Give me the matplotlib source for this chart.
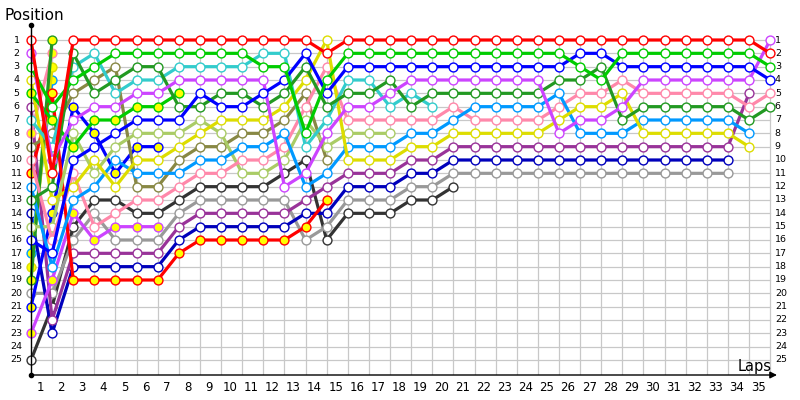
import matplotlib
matplotlib.use("Agg")
import matplotlib.pyplot as plt

# ---------------- data (position per lap, starting at lap 0 = grid) ----------------
n_laps = 35
n_positions = 25
lap_labels = [str(i) for i in range(1, n_laps + 1)]
position_labels = [str(i) for i in range(1, n_positions + 1)]

red_w = [1, 11, 1] + [1] * 11 + [2] + [1] * 20 + [2]
red_y = [11, 5, 19, 19, 19, 19, 19, 17, 16, 16, 16, 16, 16, 15, 13]
magenta_w = [2, 10, 7, 6, 6, 5, 5, 4, 4, 4, 4, 4, 12, 11, 8, 6, 6, 5, 4,
             4, 4, 4, 4, 4, 4, 8, 7, 7, 6, 4, 4, 4, 4, 4, 4, 1]
magenta_y = [23, 19, 14, 16, 15, 15, 15]
green_w = [3, 6, 4, 3, 2, 2, 2, 2, 2, 2, 2, 3, 3, 8, 4,
           2, 2, 2, 2, 2, 2, 2, 2, 2, 2, 2, 3, 4, 2, 2, 2, 2, 2, 2, 2, 3]
green_y = [5, 7, 9, 7, 7, 6, 6, 5]
dkgreen_w = [13, 12, 2, 5, 4, 3, 3, 6, 6, 5, 5, 6, 5, 3, 6, 5, 5, 4, 6,
             5, 5, 5, 5, 5, 5, 4, 4, 3, 7, 6, 6, 6, 6, 6, 7, 6]
dkgreen_y = [19, 1]
yellow_w = [4, 13, 12, 10, 12, 10, 10, 9, 8, 7, 7, 7, 6, 4, 1, 10, 10, 10, 9, 9, 8,
            8, 8, 8, 8, 7, 6, 6, 5, 8, 8, 8, 8, 8, 9]
yellow_y = [18, 3]
purple_w = [6, 22, 17, 17, 17, 17, 17, 15, 14, 14, 14, 14, 14, 13, 12, 11, 11, 11, 10, 10,
            9, 9, 9, 9, 9, 9, 9, 9, 9, 9, 9, 9, 9, 9, 5]
cyan_w = [7, 9, 3, 2, 5, 4, 4, 3, 3, 3, 3, 2, 2, 9, 7, 4, 4, 6, 5, 6]
pink_y = [8, 2]
olive_w = [9, 8, 5, 4, 3, 12, 12, 10, 9, 9, 8, 8, 7, 5, 10]
pink_w = [10, 16, 11, 15, 14, 13, 13, 12, 11, 11, 10, 10, 9, 6, 3, 7, 7, 7, 7, 7, 6,
          7, 7, 7, 7, 6, 5, 5, 4, 5, 5, 5, 5, 5, 6, 5]
lightblue_w = [12, 18, 13, 12, 10, 11, 11, 11, 10, 10, 9, 9, 8, 12, 11, 9, 9, 9, 8, 8, 7,
               6, 6, 6, 6, 5, 8, 8, 8, 7, 7, 7, 7, 7, 8]
lightblue_y = [17, 4]
darkblue_w = [14, 23, 18, 18, 18, 18, 18, 16, 15, 15, 15, 15, 15, 14, 14, 12, 12, 12, 11, 11,
              10, 10, 10, 10, 10, 10, 10, 10, 10, 10, 10, 10, 10, 10]
lightgreen_w = [15, 15, 8, 11, 9, 8, 8, 8, 7, 8, 11, 11, 10, 7, 9, 8, 8, 8]
blue_w = [16, 17, 10, 9, 8, 7, 7, 7, 5, 6, 6, 5, 4, 2, 5,
          3, 3, 3, 3, 3, 3, 3, 3, 3, 3, 3, 2, 2, 3, 3, 3, 3, 3, 3, 3, 4]
blue_y = [21, 14, 6, 8, 11, 9, 9]
gray_w = [20, 20, 16, 14, 16, 16, 16, 14, 13, 13, 13, 13, 13, 16, 15, 13, 13, 13, 12, 12,
          11, 11, 11, 11, 11, 11, 11, 11, 11, 11, 11, 11, 11, 11]
darkgray_w = [25, 21, 15, 13, 13, 14, 14, 13, 12, 12, 12, 12, 11, 10, 16, 14, 14, 14, 13, 13, 12]

# ---------------- styles ----------------
RED, MAGENTA, GREEN, DKGREEN = "#FF0000", "#CC44FF", "#00CC00", "#229922"
YELLOW, PURPLE, CYAN, PINK = "#DDDD00", "#993399", "#33CCCC", "#FF88AA"
OLIVE, LBLUE, DBLUE, LGREEN = "#888844", "#0099FF", "#0000BB", "#AACC66"
BLUE, GRAY, DGRAY = "#0000FF", "#999999", "#333333"
WHITE, YFILL = "white", "#FFFF00"

series = [
    (darkgray_w, DGRAY, WHITE), (gray_w, GRAY, WHITE), (darkblue_w, DBLUE, WHITE),
    (purple_w, PURPLE, WHITE), (magenta_y, MAGENTA, YFILL), (blue_y, BLUE, YFILL),
    (lightblue_y, LBLUE, YFILL), (yellow_y, YELLOW, YFILL), (pink_y, PINK, YFILL),
    (dkgreen_y, DKGREEN, YFILL), (red_y, RED, YFILL), (olive_w, OLIVE, WHITE),
    (lightgreen_w, LGREEN, WHITE), (pink_w, PINK, WHITE), (lightblue_w, LBLUE, WHITE),
    (yellow_w, YELLOW, WHITE), (green_y, GREEN, YFILL), (cyan_w, CYAN, WHITE),
    (dkgreen_w, DKGREEN, WHITE), (magenta_w, MAGENTA, WHITE), (blue_w, BLUE, WHITE),
    (green_w, GREEN, WHITE), (red_w, RED, WHITE),
]

plt.rcParams['font.family'] = ['DejaVu Sans']
fig = plt.figure(figsize=(8, 4), dpi=100)
W, H = 800, 400
x0, x1 = 31, 778
y_top, y_bot = 25, 375
ax = fig.add_axes([x0 / W, 1 - y_bot / H, (x1 - x0) / W, (y_bot - y_top) / H])
px_per_lap = 21.12
px_per_pos = 13.333
ax.set_xlim(0, (x1 - x0) / px_per_lap)
ax.set_ylim(1 + (y_bot - 40) / px_per_pos, 1 + (y_top - 40) / px_per_pos)
ymax = 1 + (y_bot - 40) / px_per_pos
ymin = 1 + (y_top - 40) / px_per_pos
for s in ax.spines.values():
    s.set_visible(False)
ax.set_xticks([])
ax.set_yticks([])

# grid
for p in range(1, n_positions + 1):
    ax.plot([0, n_laps], [p, p], color="#C8C8C8", lw=0.9, zorder=0)
for l in range(1, n_laps + 1):
    ax.plot([l, l], [1, ymax], color="#C8C8C8", lw=0.9, zorder=0)

# series
for vals, col, fill in series:
    laps = list(range(len(vals)))
    ax.plot(laps, vals, color=col, lw=2.3, marker='o', ms=6.4, mfc=fill, mec=col,
            mew=1.0, solid_joinstyle='round', zorder=3, clip_on=False)

# axes lines
ax.plot([0, 0], [ymin, ymax], color="black", lw=1.0, zorder=5, clip_on=False)
ax.plot([0], [ymin], marker='o', ms=3, color="black", clip_on=False, zorder=5)
ax.plot([0], [ymax], marker='o', ms=3, color="black", clip_on=False, zorder=5)
ax.annotate("", xy=((777 - x0) / px_per_lap, ymax), xytext=(0, ymax),
            arrowprops=dict(arrowstyle='-|>', color='black', lw=1.0,
                            mutation_scale=10, shrinkA=0, shrinkB=0),
            annotation_clip=False, zorder=5)

# tick labels
for i, t in enumerate(position_labels):
    p = i + 1
    ax.text(-0.68, p, t, ha='center', va='center', fontsize=6.8, clip_on=False)
    ax.text(35.22, p, t, ha='left', va='center', fontsize=6.8, clip_on=False)
for i, t in enumerate(lap_labels):
    l = i + 1
    ax.text(l - 0.57, ymax + 0.95, t, ha='center', va='center', fontsize=8.5, clip_on=False)

fig.text(4 / W, 1 - 15 / H, "Position", ha='left', va='center', fontsize=11)
fig.text(772 / W, 1 - 366 / H, "Laps", ha='right', va='center', fontsize=10.5)

fig.savefig("out.png", dpi=100)
